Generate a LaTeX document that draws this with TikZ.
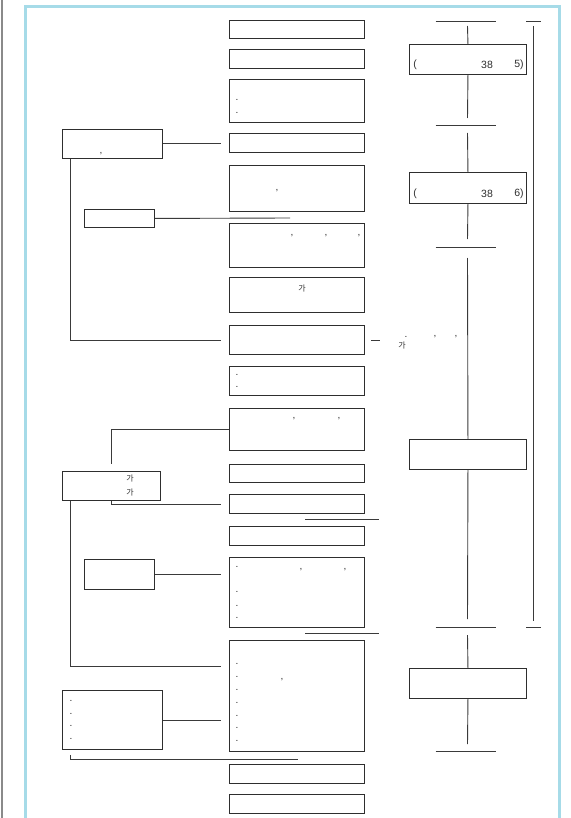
\documentclass[tikz,border=0pt]{standalone}
\usepackage{fontspec}
\setmainfont{Liberation Sans}
\newfontfamily\krfont{Noto Sans CJK KR}
\usepackage{tikz}
\usetikzlibrary{positioning,calc}
\usepackage{xcolor}
\definecolor{framecol}{HTML}{A6DBE8}
\definecolor{ink}{HTML}{2E2E2E}
\definecolor{rulecol}{HTML}{3A3A3A}
\definecolor{pagecol}{HTML}{8A8A8A}
\tikzset{
  itembox/.style={draw=ink,line width=0.9pt,anchor=north west,inner sep=0pt,
    minimum width=135pt},
  sidebox/.style={draw=ink,line width=0.9pt,anchor=north west,inner sep=0pt},
  stagebox/.style={draw=ink,line width=0.9pt,anchor=north west,inner sep=0pt,
    minimum width=117pt},
  link/.style={draw=rulecol,line width=0.9pt},
  stagebar/.style={draw=rulecol,line width=0.9pt},
  punct/.style={inner sep=0pt,font=\fontsize{10}{11}\selectfont,text=ink},
  hangul/.style={inner sep=0pt,font=\krfont\fontsize{8}{9}\selectfont,text=ink},
  numtext/.style={inner sep=0pt,font=\fontsize{10.5}{12}\selectfont,text=ink}
}

\begin{document}
\begin{tikzpicture}[x=1pt,y=-1pt]
  \useasboundingbox (0,0) rectangle (570,818);
  \draw[pagecol,line width=1.2pt] (2,0) -- (2,818);
  \draw[framecol,line width=3pt] (25,818) -- (25,7) -- (559,7) -- (559,818);

  \node[itembox,minimum height=18pt] (c1) at (229,20) {};
  \node[itembox,minimum height=19pt] (c2) at (229,49) {};
  \node[itembox,minimum height=43pt] (c3) at (229,79) {};
  \node[itembox,minimum height=19pt] (c4) at (229,133) {};
  \node[itembox,minimum height=46pt] (c5) at (229,165) {};
  \node[itembox,minimum height=44pt] (c6) at (229,223) {};
  \node[itembox,minimum height=35pt] (c7) at (229,277) {};
  \node[itembox,minimum height=29pt] (c8) at (229,325) {};
  \node[itembox,minimum height=29pt] (c9) at (229,366) {};
  \node[itembox,minimum height=42pt] (c10) at (229,408) {};
  \node[itembox,minimum height=18pt] (c11) at (229,464) {};
  \node[itembox,minimum height=19pt] (c12) at (229,494) {};
  \node[itembox,minimum height=19pt] (c13) at (229,526) {};
  \node[itembox,minimum height=70pt] (c14) at (229,557) {};
  \node[itembox,minimum height=111pt] (c15) at (229,640) {};
  \node[itembox,minimum height=19pt] (c16) at (229,764) {};
  \node[itembox,minimum height=19pt] (c17) at (229,794) {};

  \node[sidebox,minimum width=100pt,minimum height=29pt] (l1) at (62,129) {};
  \node[sidebox,minimum width=70pt,minimum height=18pt] (l2) at (84,209) {};
  \node[sidebox,minimum width=98pt,minimum height=29pt] (l3) at (62,471) {};
  \node[sidebox,minimum width=70pt,minimum height=30pt] (l4) at (84,559) {};
  \node[sidebox,minimum width=100pt,minimum height=59pt] (l5) at (62,690) {};

  \node[stagebox,minimum height=30pt] (r1) at (409,44) {};
  \node[stagebox,minimum height=31pt] (r2) at (409,172) {};
  \node[stagebox,minimum height=30pt] (r3) at (409,439) {};
  \node[stagebox,minimum height=30pt] (r4) at (409,668) {};

  \node[numtext] (r1a) at (415,65) {(};
  \node[numtext] (r1b) at (487,65) {38};
  \node[numtext] (r1c) at (519,65) {5)};
  \node[numtext] (r2a) at (415,194) {(};
  \node[numtext] (r2b) at (487,194) {38};
  \node[numtext] (r2c) at (519,194) {6)};

  \coordinate (b1) at (467.5,21);
  \coordinate (b2) at (467.5,125);
  \coordinate (b3) at (467.5,247);
  \coordinate (b4) at (467.5,627);
  \coordinate (b5) at (467.5,751);
  \foreach \b in {b1,b2,b3,b4,b5}
    \draw[stagebar] ([xshift=-32]\b) -- ([xshift=28]\b);
  \draw[link] ([yshift=-5]b1) -- (r1.north);
  \draw[link] (r1.south) -- ([yshift=7]b2);
  \draw[link] ([yshift=-8]b2) -- (r2.north);
  \draw[link] (r2.south) -- ([yshift=8]b3);
  \draw[link] ([yshift=-11]b3) -- (r3.north);
  \draw[link] (r3.south) -- ([yshift=8]b4);
  \draw[link] ([yshift=-8]b4) -- (r4.north);
  \draw[link] (r4.south) -- ([yshift=7]b5);

  \coordinate (k1) at (533,21);
  \coordinate (k2) at (533,627);
  \draw[stagebar] ([xshift=-7]k1) -- ([xshift=8]k1);
  \draw[stagebar] ([xshift=-7]k2) -- ([xshift=8]k2);
  \draw[link] ([yshift=-5]k1) -- ([yshift=6]k2);

  \coordinate (gapx) at (221,0);
  \coordinate (l2end) at (290,218);
  \coordinate (j15) at (221,666);
  \coordinate (e5) at (298,759);
  \draw[link] (l1.east) -- (l1.east -| gapx);
  \draw[link] (l2.east) -- (l2end);
  \draw[link] ([xshift=8]l1.south west) |- (c8.west -| gapx);
  \draw[link] (c10.west) -| ([yshift=7]l3.north);
  \draw[link] (l3.south) |- (c12.west -| gapx);
  \draw[link] ([xshift=8]l3.south west) |- (j15);
  \draw[link] (l4.east) -- (l4.east -| gapx);
  \draw[link] (l5.east) -- (l5.east -| gapx);
  \draw[link] ([xshift=8,yshift=-5]l5.south west) |- (e5);

  \coordinate (s1) at (305,519);
  \coordinate (s2) at (305,633);
  \draw[link] (s1) -- ++(74,0);
  \draw[link] (s2) -- ++(74,0);
  \draw[link] ([xshift=6]c8.east) -- ([xshift=15]c8.east);

  \node[punct] (t3a) at (237,100) {.};
  \node[punct] (t3b) at (237,113) {.};
  \node[punct] (tl1) at (101,154) {,};
  \node[punct] (t5) at (277,191) {,};
  \foreach \x in {292,326,359}
    \node[punct] (t6-\x) at (\x,236) {,};
  \node[hangul] (t7) at (302,288) {가};
  \node[punct] (t9a) at (237,375) {.};
  \node[punct] (t9b) at (237,387) {.};
  \node[punct] (t10a) at (294,419) {,};
  \node[punct] (t10b) at (339,419) {,};
  \node[hangul] (tl3a) at (130,478) {가};
  \node[hangul] (tl3b) at (130,492) {가};
  \node[hangul] (t8a) at (402,345) {가};
  \node[punct] (t8b) at (406,337) {.};
  \node[punct] (t8c) at (435,337) {,};
  \node[punct] (t8d) at (456,337) {,};
  \foreach \y in {567,592,606,618}
    \node[punct] (t14-\y) at (237,\y) {.};
  \node[punct] (t14a) at (301,570) {,};
  \node[punct] (t14b) at (345,570) {,};
  \foreach \y in {664,677,690,703,716,728,741}
    \node[punct] (t15-\y) at (237,\y) {.};
  \node[punct] (t15a) at (282,680) {,};
  \foreach \y in {701,714,726,739}
    \node[punct] (tl5-\y) at (71,\y) {.};
\end{tikzpicture}
\end{document}
